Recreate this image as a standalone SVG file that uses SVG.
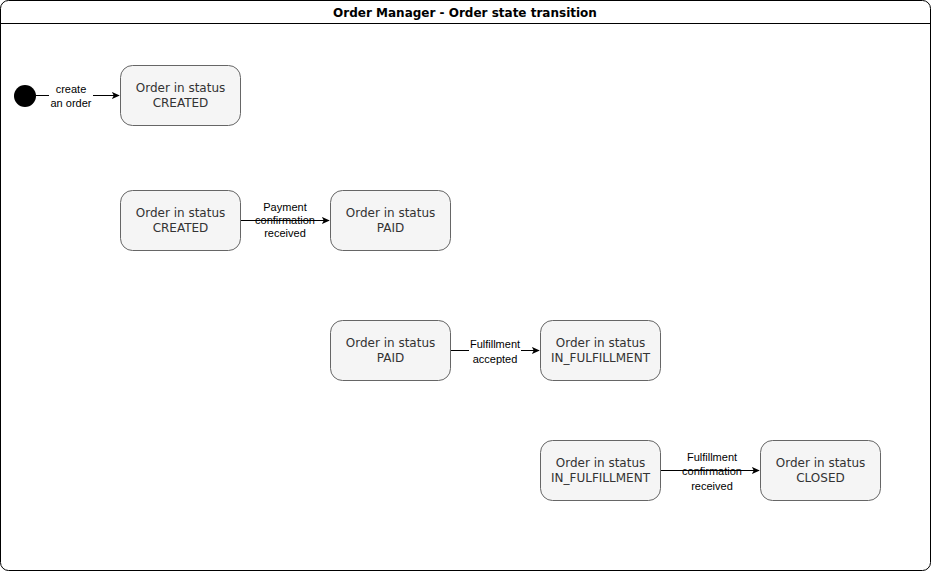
<svg xmlns="http://www.w3.org/2000/svg" width="931" height="571" viewBox="0 0 931 571">
<style>
.node rect{fill:#f5f5f5;stroke:#666666;stroke-width:1}
.node text{font-family:"DejaVu Sans",Verdana,sans-serif;font-size:12px;fill:#333333;text-anchor:middle}
.edge{stroke:#000;stroke-width:1;fill:none;marker-end:url(#arr)}
.lbl{font-family:"Liberation Sans",Arial,sans-serif;font-size:11px;fill:#000;text-anchor:middle}
.lblbg{fill:#fff}
</style>
<defs>
<marker id="arr" viewBox="0 0 10 10" refX="9" refY="5" markerWidth="8" markerHeight="8" markerUnits="userSpaceOnUse" orient="auto">
<path d="M0,0.5 L10,5 L0,9.5 L2.5,5 Z" fill="#000"/>
</marker>
</defs>
<g id="frame">
<rect x="0.5" y="0.5" width="930" height="570" rx="8" fill="#fff" stroke="#000"/>
<line x1="0.5" y1="23.5" x2="930.5" y2="23.5" stroke="#000"/>
<text x="465" y="16.5" font-family="'DejaVu Sans',Verdana,sans-serif" font-size="12" font-weight="bold" text-anchor="middle">Order Manager - Order state transition</text>
</g>
<g id="connectors">
<line class="edge" x1="36" y1="95.5" x2="119" y2="95.5"/>
<rect class="lblbg" x="49" y="82" width="44" height="28"/>
<text class="lbl" x="71" y="93">create</text>
<text class="lbl" x="71" y="107">an order</text>
<line class="edge" x1="240" y1="220.5" x2="329" y2="220.5"/>
<text class="lbl" x="285" y="211">Payment</text>
<text class="lbl" x="285" y="224">confirmation</text>
<text class="lbl" x="285" y="237">received</text>
<line class="edge" x1="450" y1="350.5" x2="539" y2="350.5"/>
<rect class="lblbg" x="469" y="337" width="52" height="28"/>
<text class="lbl" x="495" y="348">Fulfillment</text>
<text class="lbl" x="495" y="363">accepted</text>
<line class="edge" x1="660" y1="470.5" x2="759" y2="470.5"/>
<text class="lbl" x="712" y="461">Fulfillment</text>
<text class="lbl" x="712" y="475">confirmation</text>
<text class="lbl" x="712" y="490">received</text>
</g>
<g id="start"><circle cx="25" cy="96" r="11" fill="#000"/></g>
<g id="n1" class="node"><rect x="120.5" y="65.5" width="120" height="60" rx="12"/><text x="180.5" y="92">Order in status</text><text x="180.5" y="107">CREATED</text></g>
<g id="n2" class="node"><rect x="120.5" y="190.5" width="120" height="60" rx="12"/><text x="180.5" y="217">Order in status</text><text x="180.5" y="232">CREATED</text></g>
<g id="n3" class="node"><rect x="330.5" y="190.5" width="120" height="60" rx="12"/><text x="390.5" y="217">Order in status</text><text x="390.5" y="232">PAID</text></g>
<g id="n4" class="node"><rect x="330.5" y="320.5" width="120" height="60" rx="12"/><text x="390.5" y="347">Order in status</text><text x="390.5" y="362">PAID</text></g>
<g id="n5" class="node"><rect x="540.5" y="320.5" width="120" height="60" rx="12"/><text x="600.5" y="347">Order in status</text><text x="600.5" y="362">IN_FULFILLMENT</text></g>
<g id="n6" class="node"><rect x="540.5" y="440.5" width="120" height="60" rx="12"/><text x="600.5" y="467">Order in status</text><text x="600.5" y="482">IN_FULFILLMENT</text></g>
<g id="n7" class="node"><rect x="760.5" y="440.5" width="120" height="60" rx="12"/><text x="820.5" y="467">Order in status</text><text x="820.5" y="482">CLOSED</text></g>
</svg>
